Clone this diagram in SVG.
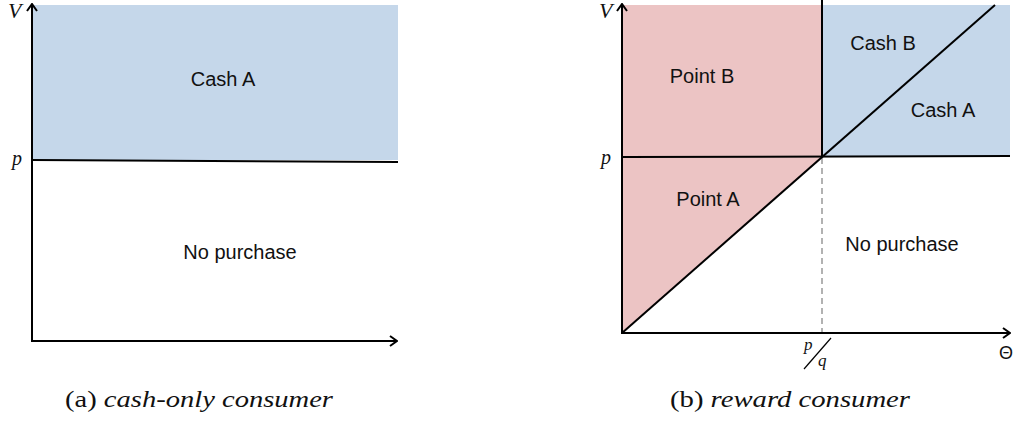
<svg xmlns="http://www.w3.org/2000/svg" width="1015" height="423" viewBox="0 0 1015 423">
<style>
.lbl{font-size:20px;fill:#111;text-anchor:middle}
.math{font-style:italic;fill:#111}
.cap{font-size:23px;fill:#111}
.ax{stroke:#000;stroke-width:2;fill:none}
.ln{stroke:#000;stroke-width:2;fill:none}
.blue{fill:#c5d7ea}
.pink{fill:#ecc4c4}
</style>
<defs>
<marker id="arr" viewBox="0 0 10 12" refX="9" refY="6" markerWidth="10" markerHeight="12" markerUnits="userSpaceOnUse" orient="auto">
<path d="M2,1 L9,6 L2,11" fill="none" stroke="#000" stroke-width="2"/>
</marker>
</defs>
<g id="panelA">
<g id="a-cashA"><rect class="blue" x="33" y="5" width="365" height="155"/><text class="lbl" font-family="Liberation Sans" x="223" y="86">Cash A</text></g>
<g id="a-nopurchase"><text class="lbl" font-family="Liberation Sans" x="240" y="259">No purchase</text></g>
<g id="a-connectors">
<line class="ln" x1="33" y1="160" x2="398" y2="162"/>
<line class="ax" x1="32" y1="342" x2="32" y2="4" marker-end="url(#arr)"/>
<line class="ax" x1="31" y1="341" x2="397" y2="341" marker-end="url(#arr)"/>
</g>
<text class="math" font-family="Liberation Serif" x="8" y="18" font-size="22">V</text>
<text class="math" font-family="Liberation Serif" x="12" y="165" font-size="20">p</text>
<text class="cap" font-family="Liberation Serif" x="65" y="407" textLength="268" lengthAdjust="spacingAndGlyphs">(a) <tspan font-style="italic">cash-only consumer</tspan></text>
</g>
<g id="panelB">
<g id="b-pointB"><rect class="pink" x="623" y="5" width="199" height="152"/><text class="lbl" font-family="Liberation Sans" x="702" y="83">Point B</text></g>
<g id="b-pointA"><polygon class="pink" points="623,157 822,157 623,333"/><text class="lbl" font-family="Liberation Sans" x="708" y="206">Point A</text></g>
<g id="b-cash"><rect class="blue" x="822" y="5" width="188" height="152"/><text class="lbl" font-family="Liberation Sans" x="883" y="50">Cash B</text><text class="lbl" font-family="Liberation Sans" x="943" y="117">Cash A</text></g>
<g id="b-nopurchase"><text class="lbl" font-family="Liberation Sans" x="902" y="251">No purchase</text></g>
<g id="b-connectors">
<line class="ln" x1="822" y1="0" x2="822" y2="157"/>
<line x1="822" y1="158" x2="822" y2="333" stroke="#999" stroke-width="1.5" stroke-dasharray="6,4"/>
<line class="ln" x1="623" y1="157" x2="1010" y2="156"/>
<line class="ln" x1="622" y1="333" x2="995" y2="5"/>
<line class="ax" x1="622" y1="334" x2="622" y2="4" marker-end="url(#arr)"/>
<line class="ax" x1="621" y1="333" x2="1010" y2="333" marker-end="url(#arr)"/>
</g>
<text class="math" font-family="Liberation Serif" x="599" y="18" font-size="22">V</text>
<text class="math" font-family="Liberation Serif" x="601" y="164" font-size="20">p</text>
<text class="math" font-family="Liberation Serif" x="804" y="350" font-size="17">p</text>
<line x1="804" y1="369" x2="831" y2="338" stroke="#000" stroke-width="1.2"/>
<text class="math" font-family="Liberation Serif" x="818" y="366" font-size="17">q</text>
<text x="999" y="359" font-family="Liberation Sans" font-size="18" fill="#111">Θ</text>
<text class="cap" font-family="Liberation Serif" x="670" y="407" textLength="240" lengthAdjust="spacingAndGlyphs">(b) <tspan font-style="italic">reward consumer</tspan></text>
</g>
</svg>
